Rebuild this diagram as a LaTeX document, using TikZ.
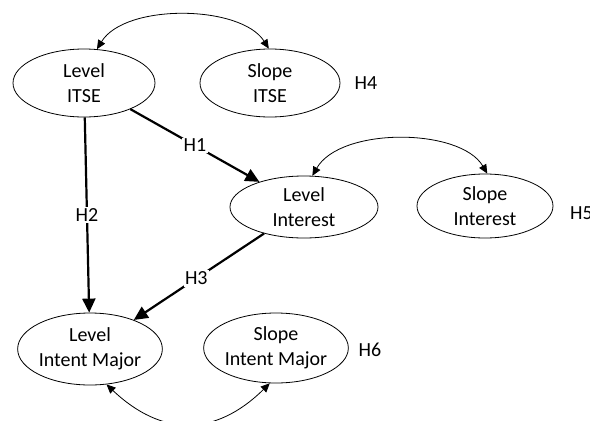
\documentclass[tikz,border=0pt]{standalone}
\usepackage{fontspec}
\setmainfont{Carlito}
\usetikzlibrary{arrows.meta,shapes.geometric}
\begin{document}
\begin{tikzpicture}[x=1pt,y=-1pt,
  lat/.style={ellipse,draw,line width=0.8pt,inner sep=0pt,align=center,
    font=\fontsize{20}{24.5}\selectfont},
  lbl/.style={font=\fontsize{20}{24}\selectfont,inner sep=1pt},
  path/.style={line width=2.2pt,-{Triangle[length=14pt,width=13pt]}},
  cov/.style={line width=0.8pt,{Triangle[length=9pt,width=8pt]}-{Triangle[length=9pt,width=8pt]}},
  hlab/.style={lbl,fill=white,inner sep=1.5pt}]
\useasboundingbox (0,0) rectangle (590,421);
\node[lat,minimum width=142pt,minimum height=68pt] (litse) at (84,83) {Level\\ITSE};
\node[lat,minimum width=140pt,minimum height=68pt] (sitse) at (270,83) {Slope\\ITSE};
\node[lbl] (h4) at (366,83) {H4};
\node[lat,minimum width=148pt,minimum height=62pt] (lint) at (304,207) {Level\\Interest};
\node[lat,minimum width=136pt,minimum height=64pt] (sint) at (485,206) {Slope\\Interest};
\node[lbl,anchor=west] (h5) at (569,213) {H5};
\node[lat,minimum width=142pt,minimum height=72pt] (limaj) at (90,349) {Level\\Intent Major};
\node[lat,minimum width=138pt,minimum height=70pt] (simaj) at (276,348) {Slope\\Intent Major};
\node[lbl] (h6) at (370,350) {H6};
\draw[path] (litse) -- node[hlab] (h1) {H1} (lint);
\draw[path] (litse) -- node[hlab] (h2) {H2} (limaj);
\draw[path] (lint) -- node[hlab,pos=0.52] (h3) {H3} (limaj);
\draw[cov] (litse.69) .. controls +(28,-46) and +(-28,-44) .. (sitse.92);
\draw[cov] (lint.75) .. controls +(28,-49) and +(-27,-46) .. (sint.86);
\draw[cov] (limaj.295) .. controls +(55,52) and +(-55,54) .. (simaj.260);
\end{tikzpicture}
\end{document}
